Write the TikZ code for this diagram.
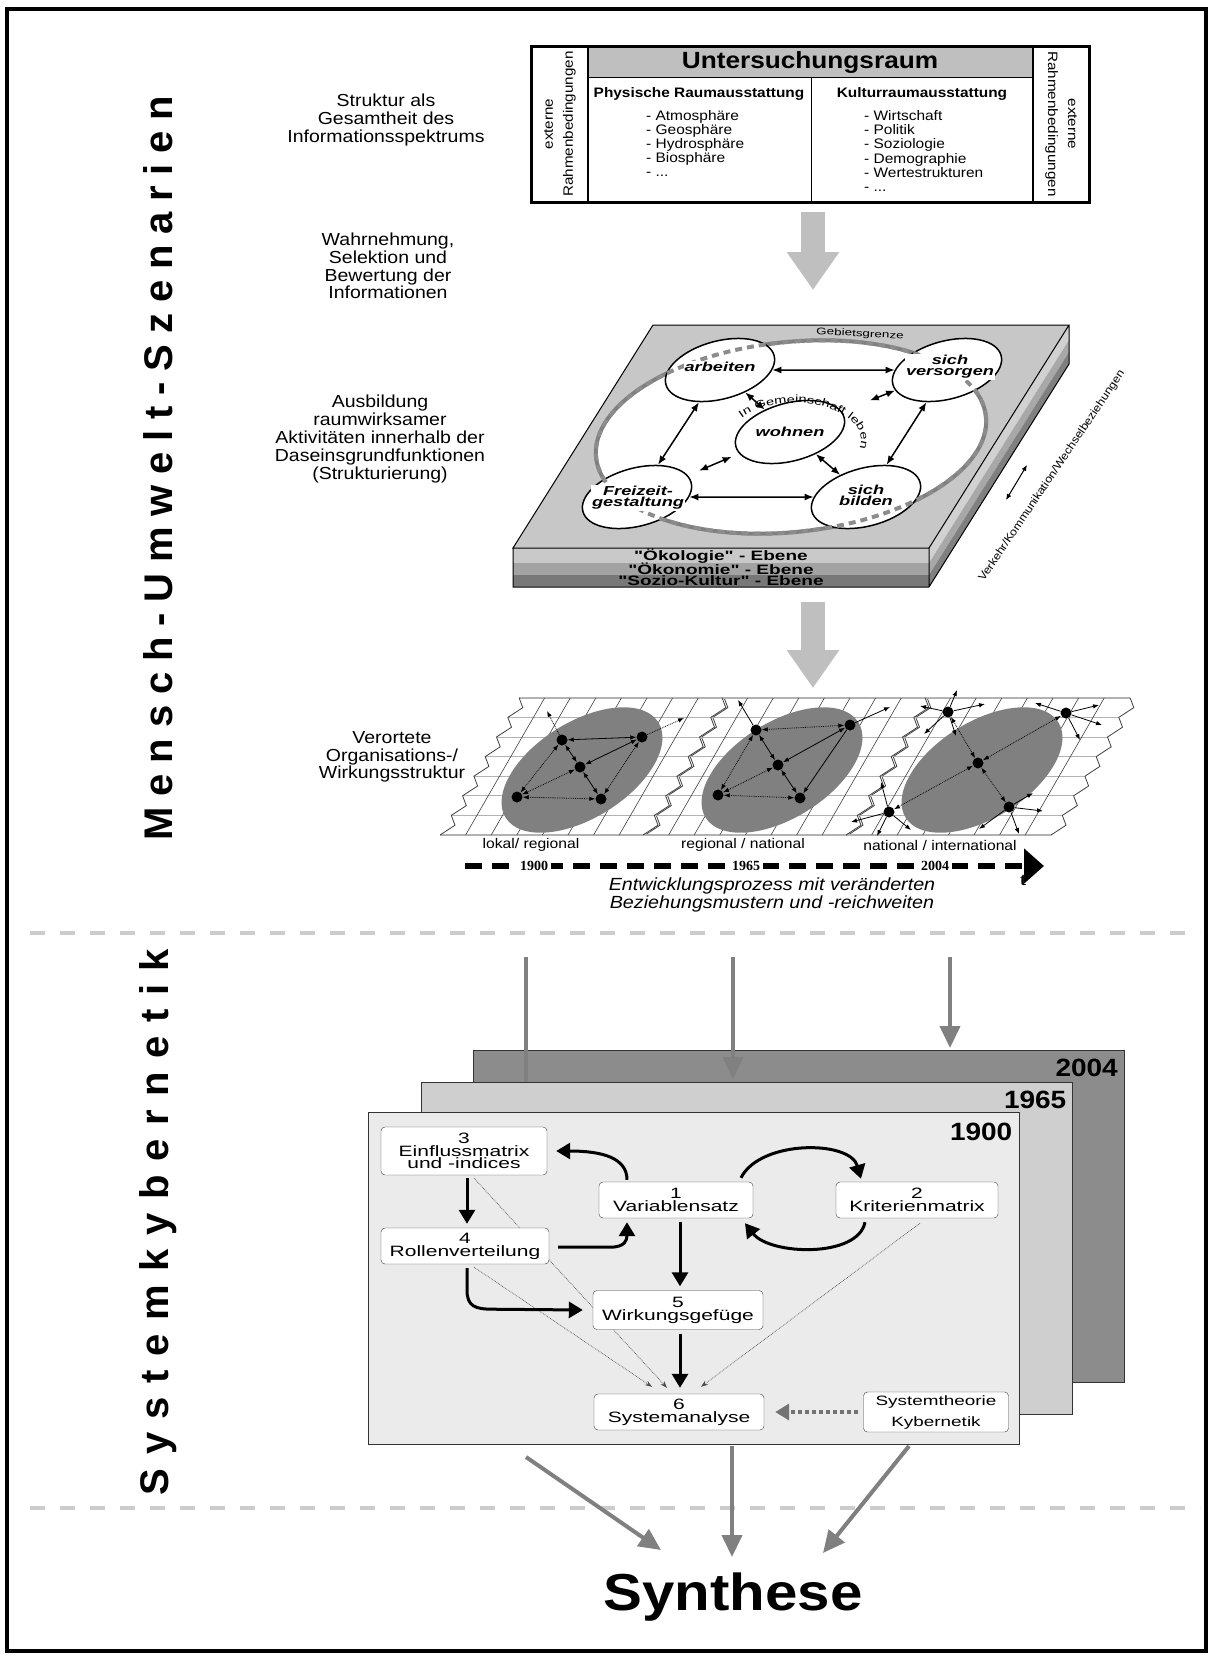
\documentclass[tikz,border=0pt]{standalone}
\usepackage{fontspec}
\setmainfont[FakeStretch=1.12]{Liberation Sans}
\newfontfamily\widefont[FakeStretch=1.4]{Liberation Sans}
\newfontfamily\sidefont{Liberation Sans}
\newfontfamily\yearfont{Liberation Serif}
\usetikzlibrary{arrows.meta,positioning,shapes.geometric,calc,decorations.text}
\pgfdeclarelayer{bg}
\pgfdeclarelayer{frames}
\pgfdeclarelayer{hints}
\pgfsetlayers{bg,frames,hints,main}
\newcommand{\setfs}[2]{\fontsize{#1}{#2}\selectfont}
\newcommand{\gemfont}{\widefont\setfs{10.5}{11}}

\begin{document}
\begin{tikzpicture}[x=1pt, y=-1pt,
    sidelabel/.style={rotate=90, font=\sidefont\bfseries\setfs{40}{40}},
    leftlabel/.style={align=center, font=\setfs{17.4}{17.8}},
    sepline/.style={draw=black!20, line width=4pt, dash pattern=on 15pt off 15pt},
    boxhead/.style={font=\bfseries\setfs{13.75}{14}},
    boxlist/.style={align=left, inner sep=0pt, font=\setfs{13.8}{14.2}},
    rahmen/.style={align=center, font=\setfs{13.6}{20}},
    bigarrow/.style={draw=black!25, line width=24pt, -{Triangle[length=38pt,width=50pt]}},
    act/.style={ellipse, draw, line width=1.5pt, fill=white, minimum width=112pt, minimum height=58pt, inner sep=0pt, rotate=15},
    actlabel/.style={fill=white, inner sep=1pt, align=center, font=\widefont\bfseries\itshape\setfs{13}{11}},
    link/.style={line width=1.5pt, {Latex[length=9pt,width=7pt]}-{Latex[length=9pt,width=7pt]}},
    stratum/.style={inner sep=0pt, font=\widefont\bfseries\setfs{13.6}{14}},
    gdot/.style={circle, fill=black, inner sep=0pt, minimum size=11pt},
    gs/.style={line width=0.8pt, {Latex[length=6pt,width=4.5pt]}-{Latex[length=6pt,width=4.5pt]}},
    gd/.style={gs, densely dotted},
    go/.style={line width=0.8pt, -{Latex[length=6pt,width=4.5pt]}},
    god/.style={go, densely dotted},
    region/.style={font=\setfs{14}{14}},
    tyear/.style={fill=white, inner sep=3pt, font=\yearfont\bfseries\setfs{14}{14}},
    yearframe/.style={draw=black!80, line width=1pt, minimum width=651pt, minimum height=332pt, inner sep=0pt},
    year/.style={anchor=north east, inner sep=0pt, font=\bfseries\setfs{25}{25}},
    grayarr/.style={draw=black!50, line width=4pt, -{Triangle[length=22pt,width=20pt]}},
    sysbox/.style={draw=black!75, fill=white, rounded corners=4pt, align=center, inner sep=2pt, font=\widefont\setfs{15}{12.8}},
    flow/.style={line width=3pt, -{Triangle[length=14pt,width=16pt]}},
    hint/.style={draw=black!70, line width=0.7pt, densely dotted, -{Stealth[length=7pt,width=5pt]}}]

    \begin{pgfonlayer}{bg}
      \fill[white] (0,0) rectangle (1212,1657);
    \end{pgfonlayer}
    \useasboundingbox (0,0) rectangle (1212,1657);
    \draw[line width=4pt] (7,9) rectangle (1206,1651);

    \node[sidelabel] (mus) at (158,468) {\addfontfeature{LetterSpace=27}Mensch-Umwelt-Szenarien};
    \node[sidelabel] (syk) at (158,1222) {\addfontfeature{LetterSpace=34}Systemkybernetik};
    \draw[sepline] (30,933) -- (1200,933);
    \draw[sepline] (30,1508) -- (1200,1508);

    \node[leftlabel] (l1) at (386,120) {Struktur als\\Gesamtheit des\\Informationsspektrums};
    \node[leftlabel] (l2) at (388,266) {Wahrnehmung,\\Selektion und\\Bewertung der\\Informationen};
    \node[leftlabel] (l3) at (380,439) {Ausbildung\\raumwirksamer\\Aktivitäten innerhalb der\\Daseinsgrundfunktionen\\(Strukturierung)};
    \node[leftlabel] (l4) at (392,757) {Verortete\\Organisations-/\\Wirkungsstruktur};

    \fill[black!25] (588,46) rectangle (1033,77);
    \node[draw, line width=3pt, minimum width=558pt, minimum height=156pt, inner sep=0pt] (ubox) at (810,124) {};
    \draw[line width=2pt] (588,46) -- (588,202) (1033,46) -- (1033,202);
    \draw[line width=1pt] (588,77) -- (1033,77) (811,77) -- (811,202);
    \node[font=\bfseries\setfs{23.4}{24}] (ur) at (810,62) {Untersuchungsraum};
    \node[boxhead] (phy) at (699,94) {Physische Raumausstattung};
    \node[boxhead] (kul) at (922,94) {Kulturraumausstattung};
    \node[boxlist, anchor=west] (phyl) at (646,143.5) {- Atmosphäre\\- Geosphäre\\- Hydrosphäre\\- Biosphäre\\- ...};
    \node[boxlist, anchor=west] (kull) at (864,151) {- Wirtschaft\\- Politik\\- Soziologie\\- Demographie\\- Wertestrukturen\\- ...};
    \node[rahmen, rotate=90] (rl) at (560,124) {externe\\Rahmenbedingungen};
    \node[rahmen, rotate=-90] (rr) at (1061,124) {externe\\Rahmenbedingungen};

    \coordinate (a1s) at (813,212);
    \coordinate (a1e) at (813,290);
    \draw[bigarrow] (a1s) -- (a1e);

    \fill[black!22] (653,325) -- (1069,325) -- (929,548) -- (513,548) -- cycle;
    \fill[black!21] (513,548) rectangle (929,563);
    \fill[black!36] (513,563) rectangle (929,575);
    \fill[black!53] (513,575) rectangle (929,587);
    \fill[black!18] (929,548) -- (1069,325) -- (1069,340) -- (929,563) -- cycle;
    \fill[black!34] (929,563) -- (1069,340) -- (1069,352) -- (929,575) -- cycle;
    \fill[black!50] (929,575) -- (1069,352) -- (1069,364) -- (929,587) -- cycle;
    \draw[line width=1pt] (653,325) -- (1069,325) -- (929,548) -- (513,548) -- cycle
      (513,548) -- (513,587) -- (929,587) -- (1069,364) -- (1069,325) (929,548) -- (929,587);
    \filldraw[fill=white, draw=black!50, line width=4pt, rotate around={6:(791,437)}] (791,437) ellipse [x radius=196, y radius=95];

    \node[act] (arb) at (720,370) {};
    \node[act] (vers) at (947,370) {};
    \node[act] (woh) at (790,432) {};
    \node[act] (frz) at (637,497) {};
    \node[act] (bil) at (866,497) {};
    \draw[draw=black!45, line width=4pt, dash pattern=on 7pt off 5pt, rotate around={6:(791,437)}] (791,437) ellipse [x radius=196, y radius=95];

    \node[actlabel] (arbt) at (720,367) {arbeiten};
    \node[actlabel] (verst) at (950,367) {sich\\versorgen};
    \node[actlabel, fill=none] (woht) at (790,432) {wohnen};
    \node[actlabel] (frzt) at (638,498) {Freizeit-\\gestaltung};
    \node[actlabel] (bilt) at (866,495) {sich\\bilden};

    \draw[link] (arb) -- (vers);
    \draw[link] (arb) -- (woh);
    \draw[link, shorten >=30pt] (vers) -- (woh);
    \draw[link] (arb) -- (frz);
    \draw[link] (vers) -- (bil);
    \draw[link] (frz) -- (bil);
    \draw[link, shorten <=8pt, shorten >=12pt] (woh) -- (frz);
    \draw[link] (woh) -- (bil);

    \node[font=\widefont\setfs{9.6}{10}, rotate=-3] (geb) at (860,334) {Gebietsgrenze};
    \path[decorate, decoration={text along path, text align=center, text={|\gemfont|In Gemeinschaft leben}}]
      (737.8,421.5) arc [start angle=210, end angle=380, x radius=66, y radius=37];

    \node[stratum] (oek) at (721,556) {"Ökologie" - Ebene};
    \node[stratum] (oen) at (721,569) {"Ökonomie" - Ebene};
    \node[stratum] (sozk) at (721,581) {"Sozio-Kultur" - Ebene};
    \node[font=\setfs{11}{11}, rotate=56] (vkw) at (1052,476) {Verkehr/Kommunikation/Wechselbeziehungen};
    \coordinate (vk1) at (1006,500);
    \coordinate (vk2) at (1027,465);
    \draw[line width=1pt, {Latex[length=6pt,width=5pt]}-{Latex[length=6pt,width=5pt]}] (vk1) -- (vk2);

    \coordinate (a2s) at (813,602);
    \coordinate (a2e) at (813,688);
    \draw[bigarrow] (a2s) -- (a2e);

    \foreach \px in {440,643,846} {
      \foreach \k in {0,...,7}
        \draw[black!30, line width=1.2pt] (\px+11.3*\k,835-19.57*\k) -- ++(205,0);
      \foreach \j in {1,...,7}
        \draw[black!75, line width=0.6pt] (\px+25.6*\j,835) -- ++(79,-137);
      \draw[black!75, line width=0.8pt] (\px,835) \foreach \k in {1,...,7} {-- ++(15,-9.8) -- ++(-3.7,-9.8)};
      \draw[black!75, line width=0.8pt] (\px+205,835) \foreach \k in {1,...,7} {-- ++(15,-9.8) -- ++(-3.7,-9.8)};
    }
    \foreach \ex in {582,782,982}
      \fill[black!50, rotate around={32:(\ex,770)}] (\ex,770) ellipse [x radius=90, y radius=48];

    \node[gdot] (p1a) at (562,740) {};
    \node[gdot] (p1b) at (642,737) {};
    \node[gdot] (p1c) at (580,767) {};
    \node[gdot] (p1d) at (517,797) {};
    \node[gdot] (p1e) at (601,799) {};
    \draw[gs] (p1a) -- (p1b);
    \draw[gs] (p1b) -- (p1c);
    \draw[gs] (p1a) -- (p1c);
    \draw[gs] (p1c) -- (p1e);
    \draw[gd] (p1a) -- (p1d);
    \draw[gd] (p1c) -- (p1d);
    \draw[gd] (p1d) -- (p1e);
    \draw[gd] (p1b) -- (p1e);
    \coordinate (o1a) at (547,711);
    \coordinate (o1b) at (684,718);
    \draw[god] (p1a) -- (o1a);
    \draw[god] (p1b) -- (o1b);

    \node[gdot] (p2a) at (756,730) {};
    \node[gdot] (p2b) at (850,725) {};
    \node[gdot] (p2c) at (778,765) {};
    \node[gdot] (p2d) at (718,795) {};
    \node[gdot] (p2e) at (800,798) {};
    \draw[gd] (p2a) -- (p2b);
    \draw[gs] (p2a) -- (p2c);
    \draw[gs] (p2b) -- (p2c);
    \draw[go] (p2b) -- (p2e);
    \draw[gs] (p2c) -- (p2e);
    \draw[gd] (p2a) -- (p2d);
    \draw[gd] (p2c) -- (p2d);
    \draw[gd] (p2d) -- (p2e);
    \coordinate (o2a) at (738,700);
    \coordinate (o2b) at (890,707);
    \draw[go] (p2a) -- (o2a);
    \draw[go] (p2b) -- (o2b);

    \node[gdot] (p3a) at (948,712) {};
    \node[gdot] (p3b) at (1066,713) {};
    \node[gdot] (p3c) at (978,763) {};
    \node[gdot] (p3d) at (889,812) {};
    \node[gdot] (p3e) at (1009,807) {};
    \draw[gd] (p3a) -- (p3c);
    \draw[gd] (p3b) -- (p3c);
    \draw[gd] (p3c) -- (p3d);
    \draw[gd] (p3c) -- (p3e);
    \foreach \dx/\dy in {-28/-6, 9/-22, 37/-8, -24/22, 8/24} \draw[go] (p3a) -- ++(\dx,\dy);
    \foreach \dx/\dy in {-31/-10, 33/-8, 14/27, 36/12} \draw[go] (p3b) -- ++(\dx,\dy);
    \foreach \dx/\dy in {-8/-30, -38/10, 22/18, -12/24} \draw[go] (p3d) -- ++(\dx,\dy);
    \foreach \dx/\dy in {34/4, -30/22, 10/27, 24/-14} \draw[go] (p3e) -- ++(\dx,\dy);

    \node[region] (r1) at (531,845) {lokal/ regional};
    \node[region] (r2) at (743,845) {regional / national};
    \node[region] (r3) at (940,845) {national / international};

    \coordinate (tl0) at (465,866);
    \coordinate (tl1) at (1044,866);
    \draw[line width=6pt, dash pattern=on 17pt off 10pt, -{Triangle[length=20pt,width=34pt]}] (tl0) -- (tl1);
    \node[tyear] (y1) at (534,866) {1900};
    \node[tyear] (y2) at (746,866) {1965};
    \node[tyear] (y3) at (935,866) {2004};
    \node[font=\yearfont\bfseries\setfs{18}{18}] (tt) at (1023,881) {t};
    \node[font=\itshape\setfs{17.6}{17.3}, align=center] (cap) at (772,895) {Entwicklungsprozess mit veränderten\\Beziehungsmustern und -reichweiten};

    \coordinate (q1) at (526,957);
    \coordinate (q2) at (733,957);
    \coordinate (q3) at (950,957);
    \begin{pgfonlayer}{frames}
      \node[yearframe, fill=black!45] (f2004) at (799,1216.5) {};
      \node[year] at ($(f2004.north east)+(-7,9)$) {2004};
      \draw[grayarr, shorten >=2pt] (q3) -- (q3 |- f2004.north);
      \draw[grayarr] (q1) -- (q1 |- f2004.south);
      \draw[grayarr, shorten >=2pt] (q2) -- (q2 |- f2004.north) -- ++(0,31);
      \node[yearframe, fill=black!19] (f1965) at (746.5,1248) {};
      \node[year] at ($(f1965.north east)+(-6,9)$) {1965};
      \node[yearframe, fill=black!8] (f1900) at (693.5,1278) {};
      \node[year] at ($(f1900.north east)+(-7,11)$) {1900};
    \end{pgfonlayer}

    \node[sysbox, minimum width=166pt, minimum height=48pt] (b3) at (464,1151) {3\\Einflussmatrix\\und -indices};
    \node[sysbox, minimum width=154pt, minimum height=36pt] (b1) at (676,1200) {1\\Variablensatz};
    \node[sysbox, minimum width=162pt, minimum height=36pt] (b2) at (917,1200) {2\\Kriterienmatrix};
    \node[sysbox, minimum width=168pt, minimum height=36pt] (b4) at (465,1246) {4\\Rollenverteilung};
    \node[sysbox, minimum width=170pt, minimum height=39pt] (b5) at (678,1310) {5\\Wirkungsgefüge};
    \node[sysbox, minimum width=170pt, minimum height=36pt] (b6) at (679,1412) {6\\Systemanalyse};
    \node[sysbox, minimum width=145pt, minimum height=40pt, font=\widefont\setfs{13.5}{21}] (bk) at (936,1412) {Systemtheorie\\Kybernetik};

    \begin{pgfonlayer}{hints}
      \draw[hint] ($(b3.south)+(10,3)$) -- ($(b6.north)+(-12,-6)$);
      \draw[hint] ($(b4.south)+(9,3)$) -- ($(b6.north)+(-27,-7)$);
      \draw[hint] ($(b2.south)+(3,5)$) -- ($(b6.north)+(22,-7)$);
    \end{pgfonlayer}

    \draw[flow] ($(b1.north)+(-49,-2)$) .. controls ($(b1.north)+(-49,-24)$) and ($(b3.east)+(55,0)$) .. ($(b3.east)+(9,0)$);
    \draw[flow] ($(b1.north)+(65,-4)$) .. controls ($(b1.north)+(84,-42)$) and ($(b2.north)+(-67,-42)$) .. ($(b2.north)+(-56,-3)$);
    \draw[flow] ($(b2.south)+(-52,4)$) .. controls ($(b2.south)+(-59,40)$) and ($(b1.south)+(94,37)$) .. ($(b1.south)+(69,5)$);
    \draw[flow] ($(b3.south)+(3,3)$) -- ($(b4.north)+(2,-4)$);
    \draw[flow] ($(b4.east)+(9,1)$) -- ($(b1.south)+(-66,29)$) .. controls ($(b1.south)+(-51,29)$) and ($(b1.south)+(-49,22)$) .. ($(b1.south)+(-49,4)$);
    \draw[flow] ($(b1.south)+(4,4)$) -- ($(b5.north)+(2,-4)$);
    \draw[flow] ($(b4.south)+(2,4)$) -- ($(b4.south)+(2,26)$) .. controls ($(b4.south)+(2,42)$) and ($(b4.south)+(10,45)$) .. ($(b4.south)+(28,45)$) -- ($(b5.west)+(-10,0)$);
    \draw[flow] ($(b5.south)+(2,4)$) -- ($(b6.north)+(1,-6)$);
    \draw[draw=black!55, line width=4pt, dash pattern=on 4pt off 3pt, shorten <=5pt, shorten >=11pt,
      -{Triangle[length=14pt,width=16pt]}] (bk) -- (b6);

    \node[font=\bfseries\setfs{52}{52}] (syn) at (733,1597) {Synthese};
    \coordinate (s1) at (526,1457);
    \coordinate (s2) at (732,1446);
    \coordinate (s3) at (909,1446);
    \coordinate (e1) at (661,1550);
    \coordinate (e2) at (732,1557);
    \coordinate (e3) at (823,1553);
    \draw[grayarr] (s1) -- (e1);
    \draw[grayarr] (s2) -- (e2);
    \draw[grayarr] (s3) -- (e3);
  \end{tikzpicture}
\end{document}
